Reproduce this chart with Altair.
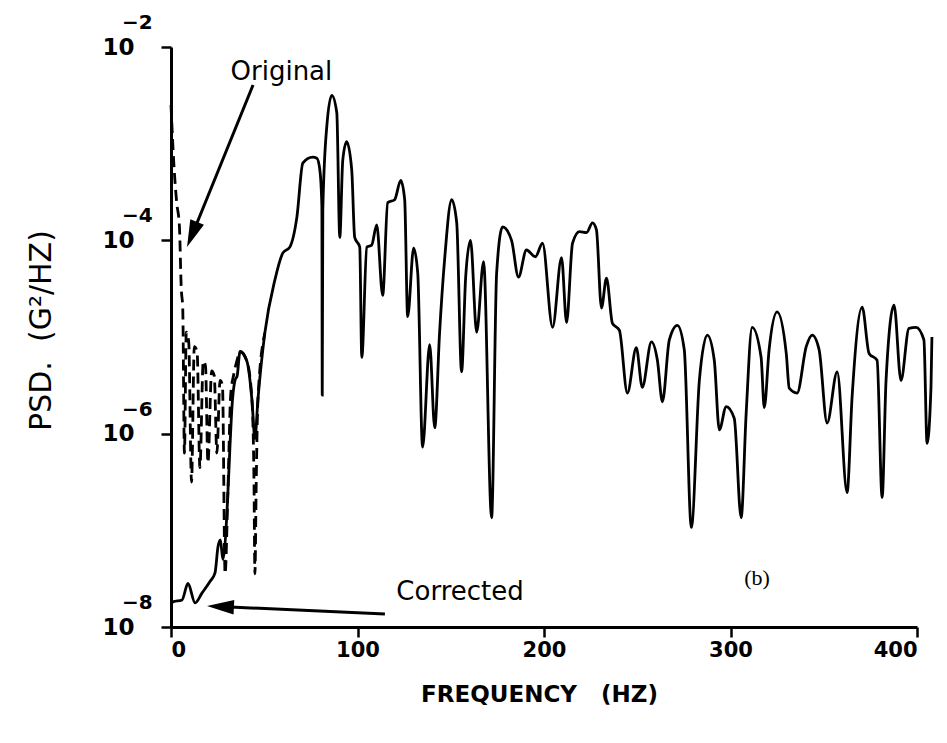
import altair as alt
import pandas as pd

# ---- data (frequency in Hz, PSD as log10 exponent) ----
corr_freq = [0.0, 1.1, 5.9, 9.1, 12.9, 16.6, 20.9, 23.6, 25.2, 26.5, 27.8, 30.0, 31.6, 32.7,
             34.3, 35.5, 37.0, 40.7, 43.4, 45.0, 46.6, 50.3, 55.7, 60.0, 63.7, 67.5, 70.7,
             76.0, 78.2, 79.8, 80.9, 81.1, 81.4, 83.5, 86.2, 88.9, 90.5, 92.1, 94.2, 96.9,
             98.5, 101.2, 102.3, 105.0, 107.6, 110.3, 113.5, 116.2, 119.9, 123.2, 125.3,
             126.9, 130.1, 132.3, 134.9, 138.7, 141.4, 144.0, 146.7, 150.5, 153.2, 155.8,
             158.0, 160.6, 163.9, 167.6, 171.9, 174.6, 177.8, 182.6, 186.3, 190.6, 195.4,
             199.2, 204.6, 209.4, 212.1, 215.3, 219.0, 222.8, 226.0, 228.1, 230.8, 233.5,
             236.7, 240.4, 244.7, 249.5, 252.7, 257.6, 260.8, 263.5, 267.2, 271.5, 275.2,
             279.0, 283.3, 287.6, 291.3, 294.0, 297.7, 302.0, 305.7, 308.4, 311.6, 316.4,
             318.1, 320.7, 325.0, 329.9, 331.5, 335.7, 340.6, 343.8, 347.5, 351.8, 357.2,
             362.5, 365.2, 370.6, 374.3, 378.6, 381.3, 383.4, 387.7, 391.4, 395.7, 399.5,
             403.7, 405.4, 407.5, 408.0]
corr_log = [-7.75, -7.74, -7.72, -7.55, -7.75, -7.65, -7.53, -7.44, -7.17, -7.10, -7.30, -6.82,
            -6.14, -5.72, -5.45, -5.40, -5.15, -5.25, -5.65, -6.05, -5.65, -4.96, -4.41, -4.13,
            -4.07, -3.76, -3.20, -3.14, -3.15, -3.27, -3.65, -5.60, -3.69, -2.83, -2.50, -2.68,
            -3.97, -3.17, -2.98, -3.27, -3.97, -4.07, -5.21, -4.07, -4.05, -3.84, -4.57, -3.61,
            -3.58, -3.38, -3.58, -4.79, -4.08, -4.34, -6.14, -5.08, -5.94, -4.96, -4.20, -3.58,
            -3.82, -5.36, -4.38, -4.00, -4.95, -4.22, -6.87, -4.34, -3.86, -4.00, -4.38, -4.10,
            -4.17, -4.03, -4.90, -4.18, -4.85, -4.03, -3.91, -3.92, -3.82, -3.89, -4.70, -4.39,
            -4.86, -4.93, -5.58, -5.11, -5.52, -5.05, -5.24, -5.67, -5.03, -4.88, -5.13, -6.97,
            -5.45, -4.98, -5.24, -5.96, -5.72, -5.84, -6.87, -5.79, -4.90, -5.21, -5.73, -5.13,
            -4.74, -5.17, -5.53, -5.58, -5.10, -4.98, -5.13, -5.89, -5.36, -6.61, -5.62, -4.69,
            -5.17, -5.24, -6.66, -5.45, -4.67, -5.45, -4.91, -4.90, -5.03, -6.10, -5.52, -5.00]

orig_freq = [0.0, 1.5, 3.0, 4.5, 5.5, 6.3, 7.2, 8.2, 9.5, 11.0, 12.5, 14.0, 15.5, 17.3, 18.5,
             19.8, 21.8, 23.2, 24.6, 26.3, 27.6, 29.0, 30.5, 32.0, 33.5, 35.3, 37.0, 40.7,
             43.4, 44.5, 45.0, 45.7, 46.6, 50.3]
orig_log = [-2.6, -3.2, -3.6, -3.85, -4.5, -4.7, -6.2, -4.95, -5.05, -6.5, -5.1, -5.15, -6.35,
            -5.25, -5.3, -6.3, -5.35, -5.4, -6.2, -5.45, -5.5, -7.45, -6.6, -5.6, -5.4, -5.25,
            -5.15, -5.25, -5.65, -6.5, -7.45, -6.5, -5.65, -4.96]

x_ticks = [0, 100, 200, 300, 400]
y_exps = [-2, -4, -6, -8]
y_exp_labels = ["\u22122", "\u22124", "\u22126", "\u22128"]

# annotations (data units)
ann_text = ["Original", "Corrected", "(b)"]
ann_freq = [59.2, 155.0, 314.2]
ann_log = [-2.26, -7.64, -7.49]
arrow_tail_freq = [44.0, 114.7]
arrow_tail_log = [-2.393, -7.865]
arrow_base_freq = [12.9, 31.6]
arrow_base_log = [-3.87, -7.793]
arrow_tip_freq = [8.6, 19.3]
arrow_tip_log = [-4.07, -7.783]
arrow_angle = [202, 272.6]

# ---- tables ----
corr = pd.DataFrame({"freq": corr_freq, "psd": [10 ** v for v in corr_log]})
orig = pd.DataFrame({"freq": orig_freq, "psd": [10 ** v for v in orig_log]})
yt = pd.DataFrame({"psd": [10.0 ** e for e in y_exps], "lab": y_exp_labels})
ann = pd.DataFrame({"freq": ann_freq, "psd": [10 ** v for v in ann_log], "txt": ann_text})
arrows = pd.DataFrame({
    "f0": arrow_tail_freq, "p0": [10 ** v for v in arrow_tail_log],
    "f1": arrow_base_freq, "p1": [10 ** v for v in arrow_base_log],
    "ft": arrow_tip_freq, "pt": [10 ** v for v in arrow_tip_log],
    "ang": arrow_angle,
})

FONT = "DejaVu Sans"
NB = "\u00a0"
xs = alt.Scale(domain=[0, 400], nice=False, zero=False)
ys = alt.Scale(type="log", domain=[1e-8, 1e-2], nice=False)

x_enc = alt.X("freq:Q", scale=xs, axis=alt.Axis(
    values=x_ticks, title="FREQUENCY" + NB * 3 + "(HZ)", grid=False, tickSize=10,
    tickWidth=2.5, domainWidth=3, domainColor="black", tickColor="black", labelFont=FONT,
    labelFontSize=21, labelFontWeight="bold", labelColor="black", labelPadding=2,
    titleFont=FONT, titleFontSize=23, titleFontWeight="bold", titleColor="black",
    titleX=368, titleY=56, titleAnchor="start", titleAlign="center", titleBaseline="top"))
y_enc = alt.Y("psd:Q", scale=ys, axis=alt.Axis(
    values=[10.0 ** e for e in y_exps], labelExpr="'10'",
    title="PSD." + NB * 2 + "(G\u00b2/HZ)",
    grid=False, tickSize=10, tickWidth=2.5, domainWidth=3, domainColor="black",
    tickColor="black", labelFont=FONT, labelFontSize=23, labelFontWeight="bold",
    labelColor="black", labelPadding=27, labelBaseline="middle", titleFont=FONT,
    titleFontSize=30, titleFontWeight="normal", titleColor="black", titleAngle=-90,
    titleX=-115, titleY=283, titleAlign="center", titleBaseline="bottom"))

corrected = alt.Chart(corr).mark_line(color="black", strokeWidth=2.8, clip=False,
                                      interpolate="monotone").encode(x=x_enc, y=y_enc)
original = alt.Chart(orig).mark_line(color="black", strokeWidth=2.8, strokeDash=[11, 6],
                                     clip=False, interpolate="monotone").encode(
    x="freq:Q", y="psd:Q")

exps = alt.Chart(yt).mark_text(font=FONT, fontSize=20, fontWeight="bold", color="black",
                               align="left", baseline="middle", dy=-24).encode(
    x=alt.value(-49), y="psd:Q", text="lab:N")

ann_main = alt.Chart(ann[ann.txt != "(b)"]).mark_text(
    font=FONT, fontSize=26, color="black", align="center", baseline="middle").encode(
    x="freq:Q", y="psd:Q", text="txt:N")
ann_b = alt.Chart(ann[ann.txt == "(b)"]).mark_text(
    font="Liberation Serif", fontSize=22, color="black", align="center",
    baseline="middle").encode(x="freq:Q", y="psd:Q", text="txt:N")

shafts = alt.Chart(arrows).mark_rule(color="black", strokeWidth=3).encode(
    x="f0:Q", y="p0:Q", x2="f1:Q", y2="p1:Q")
heads = alt.Chart(arrows).mark_point(
    shape="M0,0L0.6,2.2L-0.6,2.2Z", filled=True, color="black", opacity=1, size=600).encode(
    x="ft:Q", y="pt:Q", angle=alt.Angle("ang:Q", scale=None))

chart = alt.layer(corrected, original, exps, shafts, heads, ann_main, ann_b).properties(
    width=746, height=580,
    autosize=alt.AutoSizeParams(type="none"),
    padding={"left": 171, "top": 47, "right": 30, "bottom": 116},
    background="white",
).configure_view(stroke=None)

chart.save("out.html", embed_options={"renderer": "svg", "actions": False})
